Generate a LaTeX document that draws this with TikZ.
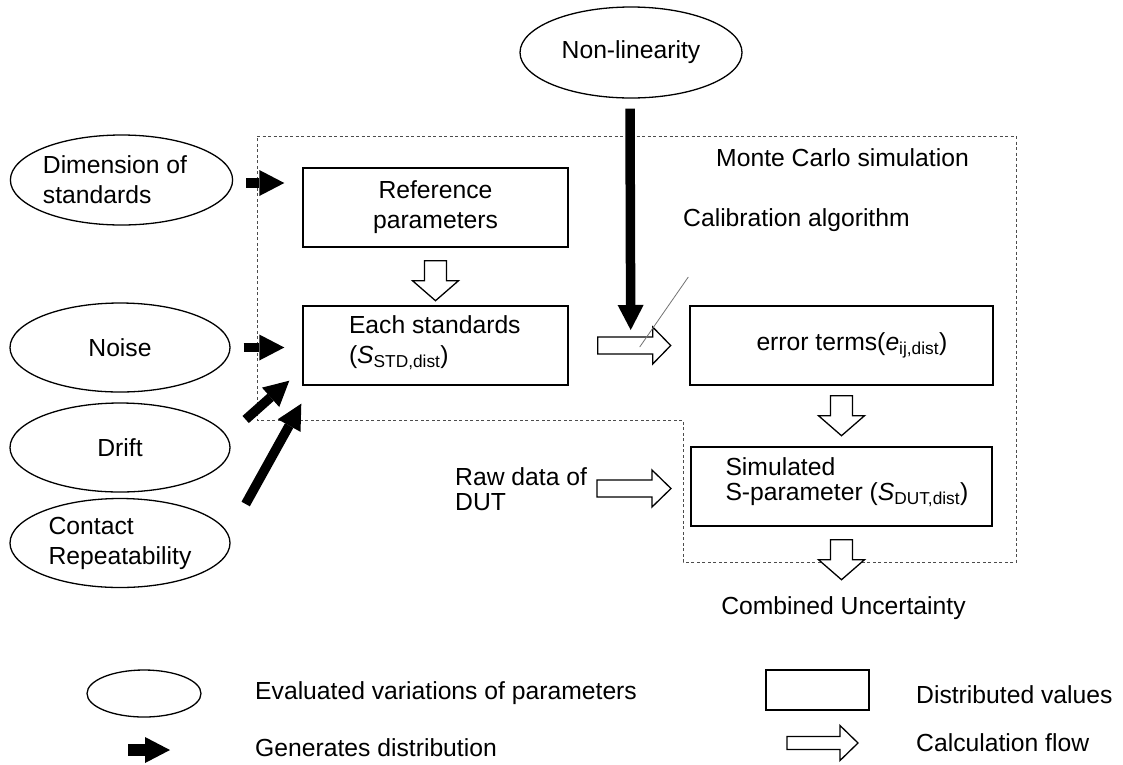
\documentclass[tikz,border=0pt]{standalone}
\usepackage{fontspec}
\setmainfont{Liberation Sans}
\usetikzlibrary{shapes.geometric,arrows.meta,calc}

\begin{document}
\begin{tikzpicture}[x=1pt,y=-1pt,
  every node/.style={font=\fontsize{24.7}{30}\selectfont, inner sep=0pt},
  param/.style={draw, line width=1.3pt, ellipse, minimum width=220pt, minimum height=89pt, align=left},
  dist/.style={draw, line width=1.4pt, rectangle, minimum width=265pt, minimum height=79pt, align=center},
  gen/.style={line width=9.5pt, -{Triangle[length=25pt,width=26pt,line width=0pt]}},
  mcbox/.style={draw=black!70, line width=0.8pt, dash pattern=on 3pt off 2.5pt},
  lbl/.style={anchor=west, align=left},
  pics/flow/.style args={#1/#2/#3/#4}{code={
    \draw[line width=1.3pt, fill=white, line join=miter]
      (0,-#2) -- (#4,-#2) -- (#4,-#3) -- (#1,0) -- (#4,#3) -- (#4,#2) -- (0,#2) -- cycle;}},
  pics/flowdown/.style={code={
    \draw[line width=1.3pt, fill=white, line join=miter]
      (-11,0) -- (-11,20) -- (-23,20) -- (0,40) -- (23,20) -- (11,20) -- (11,0) -- cycle;}},
]
\useasboundingbox (0,0) rectangle (1123,764);

% Monte Carlo region
\draw[mcbox] (257,136) -- (1016,136) -- (1016,562) -- (683,562) -- (683,420) -- (257,420) -- cycle;
\node[lbl] (mctitle) at (716,158) {Monte Carlo simulation};
\node[lbl] (calib) at (683,220) {Calibration algorithm};

% sources of variation
\node[param, minimum width=222pt, minimum height=91pt, align=center] (nonlin) at (631,52.5) {Non-linearity};
\node[param, minimum width=217pt, minimum height=90pt] (dim) at (121.5,180) {Dimension of\hspace*{13pt}\\standards};
\node[param] (noise) at (120,347.5) {Noise};
\node[param] (drift) at (120,447.5) {Drift};
\node[param] (contact) at (120,543) {Contact\\Repeatability};

% distributed values
\node[dist] (ref) at (435.5,207.5) {Reference\\parameters};
\node[dist] (each) at (435.5,345.5) {};
\node[lbl] (eachtext) at ($(each.west)+(46.5,-2.5)$) {Each standards\\(\textit{S}\textsubscript{STD,dist})};
\node[dist, minimum width=303pt] (err) at (841.5,345.5) {};
\node[lbl] (errtext) at ($(err.west)+(67,0)$) {error terms(\textit{e}\textsubscript{ij,dist})};
\node[dist, minimum width=301pt] (sim) at (841.5,486.5) {};
\node[lbl] (simtext) at ($(sim.west)+(35,-4)$) {Simulated\\[-5pt]S-parameter (\textit{S}\textsubscript{DUT,dist})};

\node[lbl] (raw) at (455,489.5) {Raw data of\\[-5pt]DUT};
\node (combined) at (843.5,608) {Combined Uncertainty};

% calculation flow
\pic at ($(ref.south)+(0,13)$) {flowdown};
\pic at ($(err.south)+(0,10)$) {flowdown};
\pic at ($(sim.south)+(0,13)$) {flowdown};
\pic at ($(each.east)+(29,0)$) {flow={73/8.5/18.5/55}};
\pic at (597,488.5) {flow={74/8.5/18.5/55}};

% generated distributions
\draw[gen] ($(dim.east)+(13,3)$) -- ($(ref.west)+(-18,-24.5)$);
\draw[gen] ($(noise.east)+(13,0)$) -- ($(each.west)+(-18,2)$);
\draw[gen] ($(drift.east)+(15,-28)$) -- ($(each.south west)+(-13,-5)$);
\draw[gen] ($(contact.east)+(15,-39)$) -- ($(each.south west)+(-1,18)$);
\draw[gen] ($(nonlin.south)+(-1,10)$) -- ($(each.east)+(62,-15.5)$);

% thin guide line
\draw[black!55, line width=0.8pt] ($(each.east)+(71,1.5)$) -- ($(err.west)+(-1,-68.5)$);

% legend
\node[draw, ellipse, line width=1.3pt, minimum width=114pt, minimum height=47pt] (legpar) at (144,693.5) {};
\node[lbl] (legpartext) at (255,693) {Evaluated variations of parameters};
\node[draw, line width=1.4pt, minimum width=103pt, minimum height=40pt] (legdist) at (817.5,690) {};
\node[lbl] (legdisttext) at (916,695) {Distributed values};
\coordinate (leggenA) at (128,750);
\coordinate (leggenB) at (170,750);
\draw[gen, line width=12pt] (leggenA) -- (leggenB);
\node[lbl] (leggentext) at (255,748) {Generates distribution};
\pic at (787,743) {flow={71/6.5/17.5/53}};
\node[lbl] (legflowtext) at (916,743) {Calculation flow};
\end{tikzpicture}
\end{document}
